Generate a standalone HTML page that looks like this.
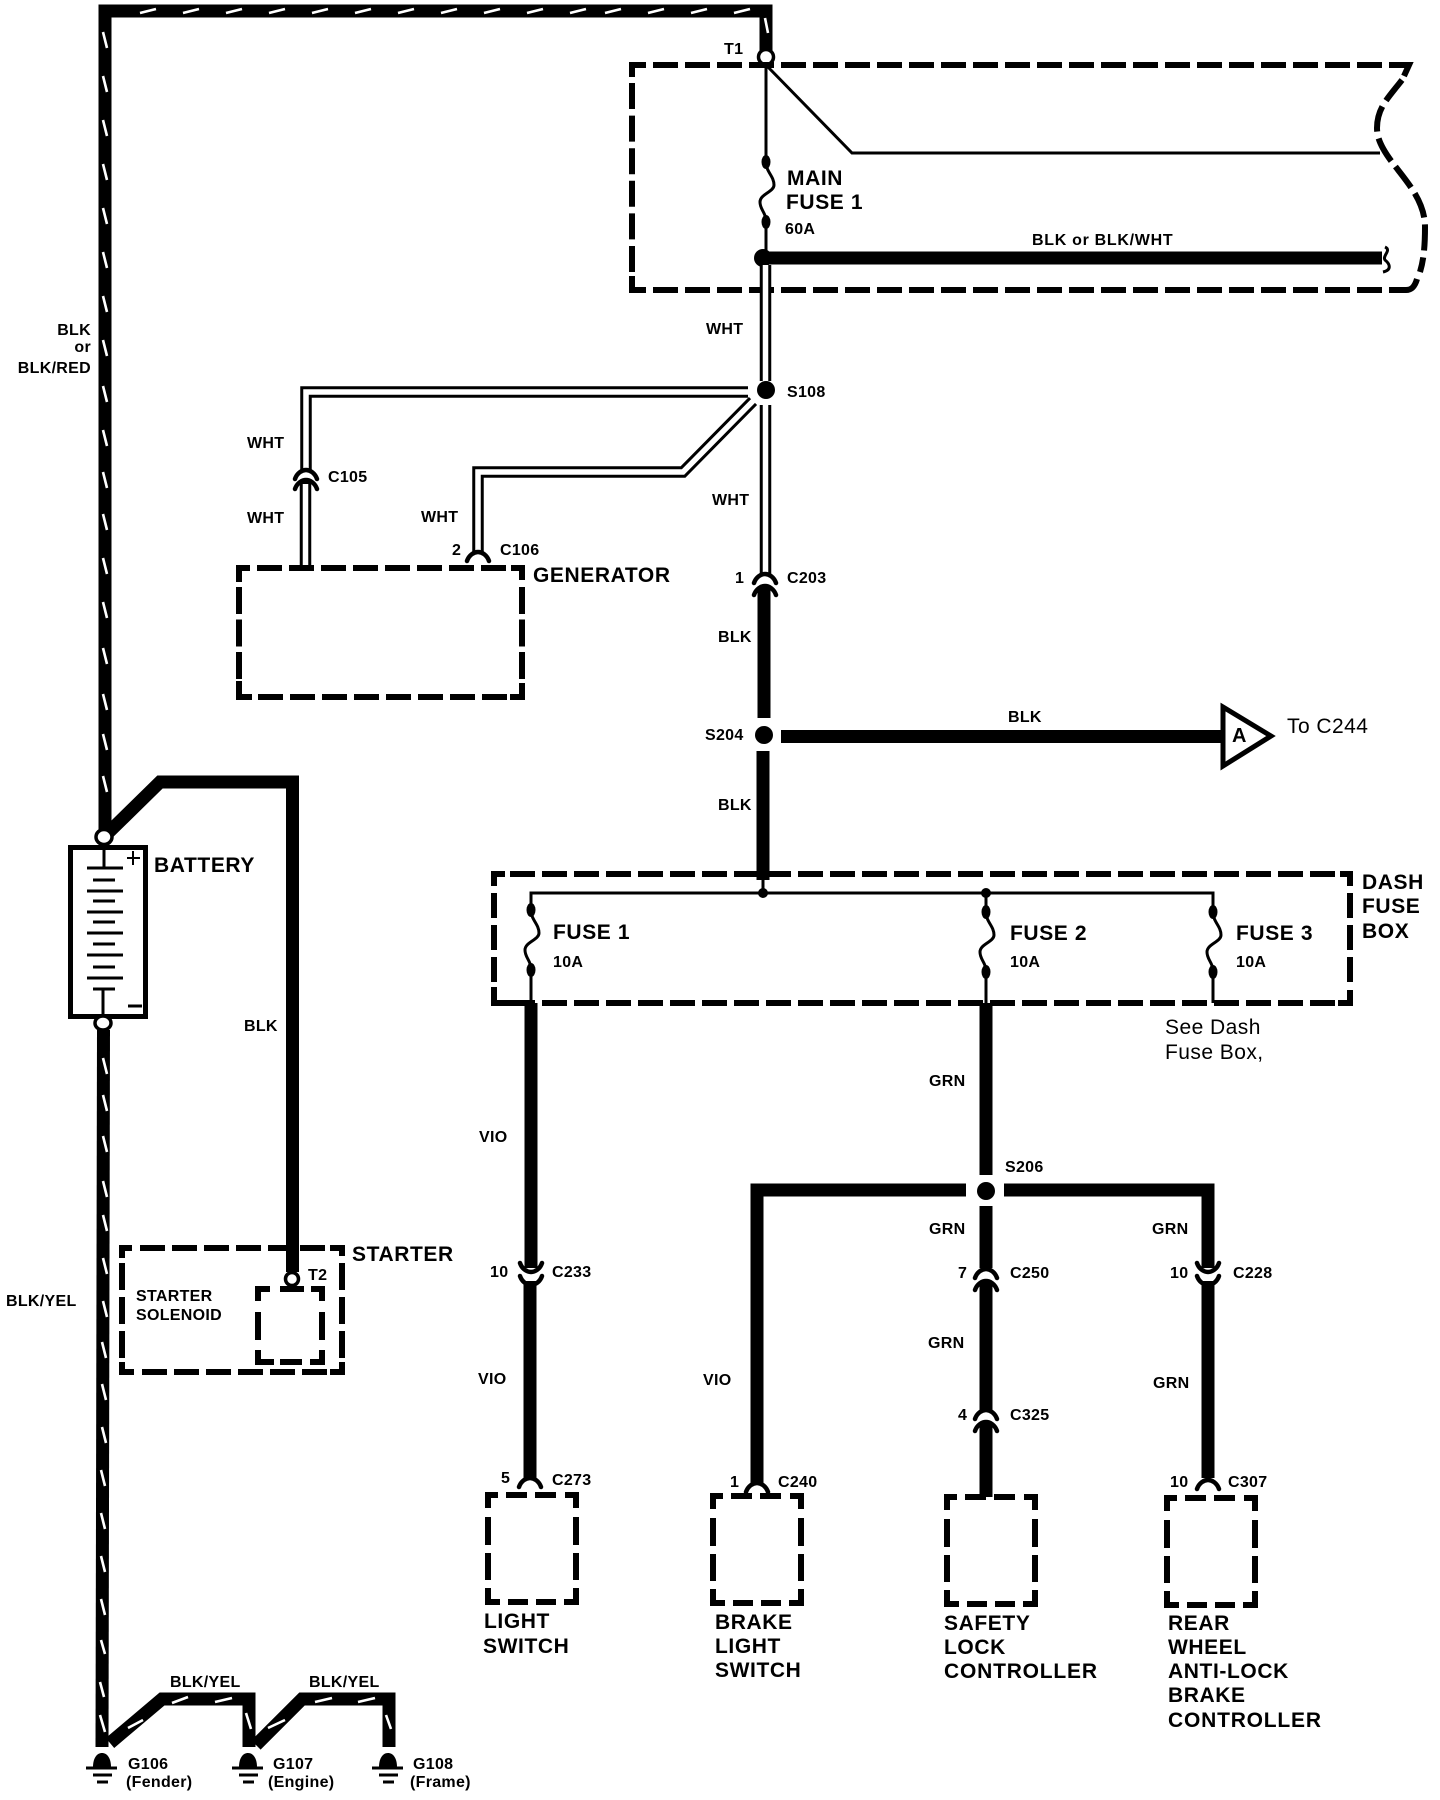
<!DOCTYPE html>
<html><head><meta charset="utf-8"><style>
html,body{margin:0;padding:0;background:#fff}
svg{display:block}
text{font-family:"Liberation Sans",sans-serif;font-weight:700;fill:#000}
.s{font-size:16px;letter-spacing:.3px}
.m{font-size:21px;letter-spacing:.6px}
.r{font-size:21px;font-weight:400;letter-spacing:.45px}
.w{fill:none;stroke:#000;stroke-width:13;stroke-linejoin:miter}
.t{fill:none;stroke:#000;stroke-width:3}
.d{fill:none;stroke:#000;stroke-width:6;stroke-dasharray:25 7;stroke-linecap:butt}
.c{fill:none;stroke:#000;stroke-width:6}
.dw{fill:none;stroke:#000;stroke-width:11.5}
.dn{fill:none;stroke:#fff;stroke-width:5.5}
.tick{fill:none;stroke:#fff;stroke-width:2.6}
.ar{fill:none;stroke:#000;stroke-width:4.5;stroke-linecap:round}
</style></head><body>
<svg width="1440" height="1800" viewBox="0 0 1440 1800" xmlns="http://www.w3.org/2000/svg">
<defs>
<g id="box">
<path class="c" d="M0 13V0H10M18 0H39M47 0H68M77 0H88V13M0 22V50M0 58V85M0 93V107H12M20 107H40M48 107H68M76 107H88V93M88 22V50M88 58V85" stroke-width="5"/>
</g>
<g id="fuse">
<path class="t" d="M0 0C0 10 8 14 8 23C8 30 -6 32 -6 40C-6 48 0 50 0 60"/>
<ellipse cx="0" cy="0" rx="4.5" ry="7"/><ellipse cx="0" cy="60" rx="4.5" ry="7"/>
</g>
<path id="arch" class="ar" d="M-11 5C-9 -1 -4 -4 0 -4C4 -4 9 -1 11 5"/>
<path id="cup" class="ar" d="M-11 -5C-9 1 -4 4 0 4C4 4 9 1 11 -5"/>
<g id="gnd">
<path d="M-9 0C-9 -9 -5 -14 0 -14C5 -14 9 -9 9 0Z" transform="translate(0,14)"/>
<path d="M-16 15H15M-9 22H10M-5 29H6" fill="none" stroke="#000" stroke-width="3"/>
</g>
</defs>

<!-- main battery positive wire -->
<path class="w" d="M105 835V11H766V52"/>
<path class="tick" d="M140 13l16 -4M183 13l16 -4M226 13l16 -4M269 13l16 -4M312 13l16 -4M355 13l16 -4M398 13l16 -4M441 13l16 -4M484 13l16 -4M527 13l16 -4M570 13l16 -4M605 13l16 -4M648 13l16 -4M691 13l16 -4M734 13l16 -4M765 18l3 15"/>
<path class="tick" d="M103 32l4 16M103 76l4 16M103 120l4 16M103 164l4 16M103 208l4 16M103 252l4 16M103 296l4 16M103 340l4 16M103 386l4 16M103 430l4 16M103 472l4 16M103 514l4 16M103 558l4 16M103 602l4 16M103 648l4 16M103 694l4 16M103 734l4 16M103 776l4 16"/>
<circle cx="766" cy="57" r="7.5" fill="#fff" stroke="#000" stroke-width="3.5"/>

<!-- underhood fuse box dashed outline -->
<path class="d" d="M632 65H1400" stroke-dashoffset="-21"/>
<path class="d" d="M632 290H1400" stroke-dashoffset="-21"/>
<path class="d" d="M632 83V272" style="stroke-dasharray:26 6.6"/>
<path class="c" d="M632 77V65H644M632 276V290H646M1395 65H1409L1404 76M1398 290H1406C1412 290 1415 286 1417 279"/>
<path class="d" d="M1402 80C1388 98 1377 108 1377 128C1377 160 1425 185 1425 227C1425 250 1423 262 1420 272" style="stroke-dasharray:26 7"/>

<!-- inside main fuse box -->
<path class="t" d="M766 65V162"/>
<path class="t" d="M767 66L852 153H1380"/>
<use href="#fuse" x="766" y="162"/>
<path class="t" d="M766 222V258"/>
<circle cx="763" cy="258" r="9"/>
<path class="w" d="M763 258H1382"/>
<path class="t" d="M1385 247C1392 250 1382 256 1385 260C1390 264 1392 270 1383 272"/>

<!-- WHT main -->
<path class="dw" d="M765.5 265V381"/><path class="dn" d="M765.5 265V381"/>
<path class="dw" d="M765.5 405V574"/><path class="dn" d="M765.5 405V574"/>
<circle cx="766" cy="390" r="9"/>
<!-- C105 -->
<path class="dw" d="M748 392H306V470"/><path class="dn" d="M749 392H306V470"/>
<use href="#arch" x="306" y="474"/><use href="#arch" x="306" y="484"/>
<path class="dw" d="M305.5 482V568"/><path class="dn" d="M305.5 484V568"/>
<!-- C106 -->
<path class="dw" d="M753 401L683 472H478V552"/><path class="dn" d="M756 398L683 472H478V553"/>
<use href="#arch" x="478" y="556"/>

<!-- generator -->
<path class="d" d="M257 568H510"/>
<path class="d" d="M258 697H510"/>
<path class="d" d="M239 587V680" style="stroke-dasharray:27 5.5"/>
<path class="d" d="M522 587V680" style="stroke-dasharray:27 5.5"/>
<path class="c" d="M239 582V568H250M511 568H522V580M239 681V697H252M510 697H522V683"/>

<!-- C203 + BLK -->
<use href="#arch" x="765" y="578"/><use href="#arch" x="765" y="590"/>
<path class="w" d="M764 588V718"/>
<circle cx="764" cy="735" r="9"/>
<path class="w" d="M763 751V880"/>
<path class="w" d="M781 736.5H1222"/>
<path d="M1223 707L1271 736L1223 766Z" fill="#fff" stroke="#000" stroke-width="5"/>

<!-- Dash fuse box -->
<path class="d" d="M510 874H1337"/>
<path class="d" d="M510 1003H1337"/>
<path class="d" d="M494 893V982"/>
<path class="d" d="M1350 893V982"/>
<path class="c" d="M494 886V874H505M1340 874H1350V886M494 987V1003H510M1338 1003H1350V990"/>
<path class="t" d="M763 874V893M531 910V893H1213V912M986 893V912"/>
<circle cx="763" cy="893" r="5"/><circle cx="986" cy="893" r="5"/>
<use href="#fuse" x="531" y="910"/>
<use href="#fuse" x="986" y="912"/>
<use href="#fuse" x="1213" y="912"/>
<path class="t" d="M531 971V1003M986 972V1003M1213 972V1003"/>

<!-- lower circuits -->
<path class="w" d="M531 1003V1268"/>
<use href="#cup" x="531" y="1268"/><use href="#cup" x="531" y="1281"/>
<path class="w" d="M530 1281V1478"/>
<use href="#arch" x="530" y="1482"/>

<path class="w" d="M986 1003V1175"/>
<circle cx="986" cy="1191" r="9"/>
<path class="w" d="M966 1190H757V1484"/>
<path class="w" d="M1004 1190H1208V1268"/>
<use href="#arch" x="757" y="1487"/>
<path class="w" d="M986 1206V1268"/>
<use href="#arch" x="986" y="1273"/><use href="#arch" x="986" y="1285"/>
<path class="w" d="M986 1283V1410"/>
<use href="#arch" x="986" y="1414"/><use href="#arch" x="986" y="1426"/>
<path class="w" d="M986 1424V1497"/>
<use href="#cup" x="1208" y="1268"/><use href="#cup" x="1208" y="1281"/>
<path class="w" d="M1208 1281V1478"/>
<use href="#arch" x="1208" y="1484"/>

<use href="#box" x="488" y="1495"/>
<use href="#box" x="713" y="1496"/>
<use href="#box" x="947" y="1497"/>
<use href="#box" x="1167" y="1498"/>

<!-- battery -->
<path class="w" d="M109 832L160 782H292.5V1272"/>
<ellipse cx="104" cy="837" rx="8" ry="7.5" fill="#fff" stroke="#000" stroke-width="3.5"/>
<rect x="70.5" y="847.5" width="75" height="169" fill="#fff" stroke="#000" stroke-width="5"/>
<path fill="none" stroke="#000" stroke-width="3" d="M104 848V868M87 868H123M93 880H115M87 891H123M93 901H115M87 912H123M93 922H115M87 933H123M93 944H115M87 955H123M93 967H115M87 978H123M93 989H115M103 989V1015M128 1006H142"/>
<path fill="none" stroke="#000" stroke-width="2" d="M127 858H140M133 851V865"/>
<ellipse cx="103" cy="1023" rx="8" ry="7" fill="#fff" stroke="#000" stroke-width="3.5"/>
<path class="w" d="M103.5 1030L102 1747"/>
<path class="tick" d="M103 1058l4 16M103 1095l4 16M103 1136l4 16M103 1181l4 16M103 1215l4 16M103 1258l4 16M103 1301l4 16M102 1342l4 16M102 1384l4 16M102 1427l4 16M101 1470l4 16M101 1513l4 16M101 1556l4 16M101 1599l4 16M101 1640l4 14M100 1682l4 15M100 1715l5 17"/>

<!-- starter -->
<path class="d" d="M140 1248H330"/>
<path class="d" d="M142 1372H330"/>
<path class="d" d="M122 1263V1360" style="stroke-dasharray:27 7"/>
<path class="d" d="M342 1263V1360" style="stroke-dasharray:27 7"/>
<path class="c" d="M122 1258V1248H132M330 1248H342V1256M122 1362V1372H134M330 1372H342V1362"/>
<circle cx="292" cy="1279" r="6.5" fill="#fff" stroke="#000" stroke-width="3.5"/>
<path class="c" d="M258 1301V1289H270M280 1289H304M311 1289H322V1301M258 1312V1340M322 1312V1340M258 1350V1362H274M280 1362H302M310 1362H322V1350" stroke-width="5"/>

<!-- grounds wiring -->
<path class="w" d="M110 1743L162 1699H249V1747" />
<path class="w" d="M256 1745L302 1699H389V1747"/>
<path class="tick" d="M128 1728l15 -8M172 1703l16 -6M215 1702l17 -4M246 1713l5 16M268 1728l17 -8M315 1702l17 -4M358 1702l17 -4M386 1715l5 14"/>
<use href="#gnd" x="102" y="1753"/>
<use href="#gnd" x="248" y="1753"/>
<use href="#gnd" x="388" y="1753"/>

<!-- Labels -->
<text class="s" x="724" y="54">T1</text>
<text class="m" x="787" y="185">MAIN</text>
<text class="m" x="786" y="209">FUSE 1</text>
<text class="s" x="785" y="234">60A</text>
<text class="s" x="1032" y="245" style="letter-spacing:.7px">BLK or BLK/WHT</text>
<text class="s" x="706" y="334">WHT</text>
<text class="s" x="787" y="397">S108</text>
<text class="s" x="91" y="335" text-anchor="end">BLK</text>
<text class="s" x="91" y="352" text-anchor="end">or</text>
<text class="s" x="91" y="373" text-anchor="end">BLK/RED</text>
<text class="s" x="247" y="448">WHT</text>
<text class="s" x="247" y="523">WHT</text>
<text class="s" x="421" y="522">WHT</text>
<text class="s" x="712" y="505">WHT</text>
<text class="s" x="328" y="482">C105</text>
<text class="s" x="452" y="555">2</text>
<text class="s" x="500" y="555">C106</text>
<text class="m" x="533" y="582">GENERATOR</text>
<text class="s" x="735" y="583">1</text>
<text class="s" x="787" y="583">C203</text>
<text class="s" x="718" y="642">BLK</text>
<text class="s" x="705" y="740">S204</text>
<text class="s" x="718" y="810">BLK</text>
<text class="s" x="1008" y="722">BLK</text>
<text x="1232" y="742" style="font-size:20px">A</text>
<text class="r" x="1287" y="733">To C244</text>
<text class="m" x="154" y="872">BATTERY</text>
<text class="s" x="244" y="1031">BLK</text>
<text class="s" x="6" y="1306">BLK/YEL</text>
<text class="m" x="352" y="1261">STARTER</text>
<text class="s" x="308" y="1280">T2</text>
<text class="s" x="136" y="1301">STARTER</text>
<text class="s" x="136" y="1320">SOLENOID</text>

<text class="m" x="553" y="939">FUSE 1</text>
<text class="s" x="553" y="967">10A</text>
<text class="m" x="1010" y="940">FUSE 2</text>
<text class="s" x="1010" y="967">10A</text>
<text class="m" x="1236" y="940">FUSE 3</text>
<text class="s" x="1236" y="967">10A</text>
<text class="m" x="1362" y="889">DASH</text>
<text class="m" x="1362" y="913">FUSE</text>
<text class="m" x="1362" y="938">BOX</text>
<text class="r" x="1165" y="1034">See Dash</text>
<text class="r" x="1165" y="1059">Fuse Box,</text>
<text class="s" x="929" y="1086">GRN</text>
<text class="s" x="479" y="1142">VIO</text>
<text class="s" x="1005" y="1172">S206</text>
<text class="s" x="929" y="1234">GRN</text>
<text class="s" x="1152" y="1234">GRN</text>
<text class="s" x="490" y="1277">10</text>
<text class="s" x="552" y="1277">C233</text>
<text class="s" x="958" y="1278">7</text>
<text class="s" x="1010" y="1278">C250</text>
<text class="s" x="1170" y="1278">10</text>
<text class="s" x="1233" y="1278">C228</text>
<text class="s" x="928" y="1348">GRN</text>
<text class="s" x="1153" y="1388">GRN</text>
<text class="s" x="478" y="1384">VIO</text>
<text class="s" x="703" y="1385">VIO</text>
<text class="s" x="958" y="1420">4</text>
<text class="s" x="1010" y="1420">C325</text>
<text class="s" x="501" y="1483">5</text>
<text class="s" x="552" y="1485">C273</text>
<text class="s" x="730" y="1487">1</text>
<text class="s" x="778" y="1487">C240</text>
<text class="s" x="1170" y="1487">10</text>
<text class="s" x="1228" y="1487">C307</text>

<text class="m" x="484" y="1628">LIGHT</text>
<text class="m" x="483" y="1653">SWITCH</text>
<text class="m" x="715" y="1629">BRAKE</text>
<text class="m" x="715" y="1653">LIGHT</text>
<text class="m" x="715" y="1677">SWITCH</text>
<text class="m" x="944" y="1630">SAFETY</text>
<text class="m" x="944" y="1654">LOCK</text>
<text class="m" x="944" y="1678" style="letter-spacing:.8px">CONTROLLER</text>
<text class="m" x="1168" y="1630">REAR</text>
<text class="m" x="1168" y="1654">WHEEL</text>
<text class="m" x="1168" y="1678">ANTI-LOCK</text>
<text class="m" x="1168" y="1702">BRAKE</text>
<text class="m" x="1168" y="1727" style="letter-spacing:.8px">CONTROLLER</text>

<text class="s" x="170" y="1687">BLK/YEL</text>
<text class="s" x="309" y="1687">BLK/YEL</text>
<text class="s" x="128" y="1769">G106</text>
<text class="s" x="126" y="1787">(Fender)</text>
<text class="s" x="273" y="1769">G107</text>
<text class="s" x="268" y="1787">(Engine)</text>
<text class="s" x="413" y="1769">G108</text>
<text class="s" x="410" y="1787">(Frame)</text>
</svg>
</body></html>
